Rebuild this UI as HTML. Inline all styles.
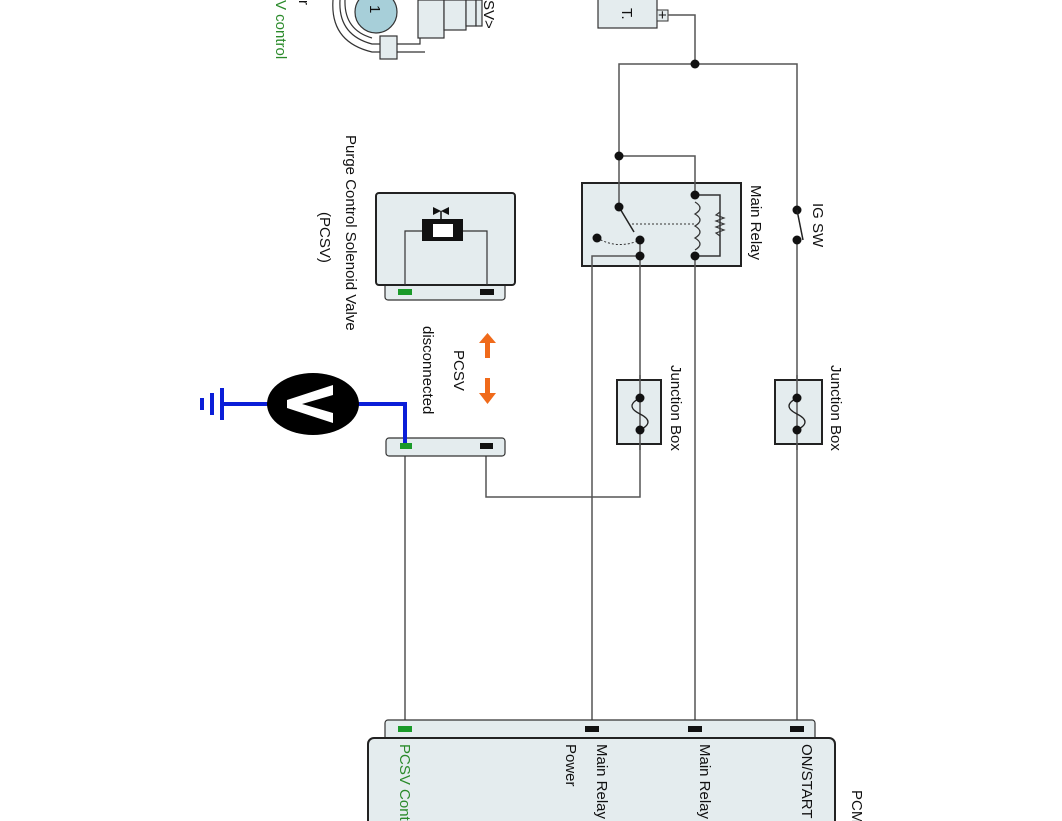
<!DOCTYPE html>
<html><head><meta charset="utf-8"><style>
html,body{margin:0;padding:0;background:#fff;}
svg{display:block;}
text{font-family:"Liberation Sans",sans-serif;font-size:15px;fill:#111;}
</style></head><body>
<svg width="1062" height="821" viewBox="0 0 1062 821" xmlns="http://www.w3.org/2000/svg">
<!-- top-left partial component -->
<g stroke="#333" stroke-width="1.2" fill="#e4ecee">
<path d="M340,0 Q338,35 372,44 L420,44 L420,0" fill="none"/>
<path d="M333,0 Q330,42 372,52 L425,52" fill="none"/>
<path d="M345,0 Q344,30 372,38" fill="none"/>
<rect x="380" y="36" width="17" height="23"/>
<rect x="418" y="0" width="26" height="38"/>
<rect x="444" y="0" width="22" height="30"/>
<rect x="466" y="0" width="10" height="26"/>
<rect x="476" y="0" width="6" height="26"/>
<circle cx="376" cy="12" r="21" fill="#a7cfd9"/>
</g>
<text transform="translate(370,5) rotate(90)" font-size="14">1</text>
<text transform="translate(484,0) rotate(90)" font-size="16">SV&gt;</text>
<text transform="translate(299,0) rotate(90)" font-size="16">r</text>
<text transform="translate(276,0) rotate(90)" font-size="16" style="fill:#2a8a2a">V control</text>

<!-- battery -->
<rect x="598" y="-5" width="59" height="33" fill="#e4ecee" stroke="#333" stroke-width="1.2"/>
<text transform="translate(622,8) rotate(90)" font-size="13">T.</text>
<rect x="657" y="10" width="11" height="11" fill="#e4ecee" stroke="#333"/>
<text x="658" y="20" font-size="11">+</text>

<!-- relay box (behind wires) -->
<rect x="582" y="183" width="159" height="83" fill="#e4ecee" stroke="#222" stroke-width="2"/>

<!-- wires -->
<g stroke="#555" stroke-width="1.5" fill="none">
<polyline points="668,15 695,15 695,64"/>
<polyline points="619,207 619,64 797,64 797,210"/>
<polyline points="619,156 695,156 695,195"/>
<line x1="797" y1="240" x2="797" y2="728"/>
<line x1="695" y1="256" x2="695" y2="728"/>
<polyline points="640,256 592,256 592,728"/>
<polyline points="640,240 640,497 486,497 486,446"/>
<line x1="405" y1="446" x2="405" y2="728"/>
<polyline points="695,195 720,195 720,256 695,256" stroke="#333"/>
</g>
<g fill="#111">
<circle cx="695" cy="64" r="4.5"/>
<circle cx="619" cy="156" r="4.5"/>
<circle cx="797" cy="210" r="4.5"/>
<circle cx="797" cy="240" r="4.5"/>
</g>
<line x1="797" y1="210" x2="803" y2="240" stroke="#222" stroke-width="1.5"/>
<text transform="translate(813,203) rotate(90)">IG SW</text>

<!-- relay internals -->
<line x1="619" y1="207" x2="634" y2="232" stroke="#222" stroke-width="1.5"/>
<line x1="632" y1="224" x2="695" y2="224" stroke="#333" stroke-width="1" stroke-dasharray="2,2"/>
<path d="M597,238 Q618,250 640,240" stroke="#333" stroke-width="1" stroke-dasharray="2,2" fill="none"/>
<path d="M695,202 q10,6 0,12 q10,6 0,12 q10,6 0,12 q10,6 0,12" stroke="#333" stroke-width="1.3" fill="none"/>
<polyline points="720,212 716,215 724,218 716,221 724,224 716,227 724,230 716,233 720,236" stroke="#333" stroke-width="1.2" fill="none"/>
<g fill="#111">
<circle cx="619" cy="207" r="4.5"/><circle cx="640" cy="240" r="4.5"/><circle cx="640" cy="256" r="4.5"/>
<circle cx="597" cy="238" r="4.5"/><circle cx="695" cy="195" r="4.5"/><circle cx="695" cy="256" r="4.5"/>
</g>
<text transform="translate(751,185) rotate(90)">Main Relay</text>

<!-- junction boxes -->
<rect x="617" y="380" width="44" height="64" fill="#e4ecee" stroke="#222" stroke-width="2"/>
<rect x="775" y="380" width="47" height="64" fill="#e4ecee" stroke="#222" stroke-width="2"/>
<line x1="640" y1="375" x2="640" y2="450" stroke="#555" stroke-width="1.5"/>
<line x1="797" y1="375" x2="797" y2="450" stroke="#555" stroke-width="1.5"/>
<path d="M640,398 q-16,8 0,16 q16,8 0,16" stroke="#222" stroke-width="1.3" fill="none"/>
<path d="M797,398 q-16,8 0,16 q16,8 0,16" stroke="#222" stroke-width="1.3" fill="none"/>
<g fill="#111"><circle cx="640" cy="398" r="4.5"/><circle cx="640" cy="430" r="4.5"/><circle cx="797" cy="398" r="4.5"/><circle cx="797" cy="430" r="4.5"/></g>
<text transform="translate(671,365) rotate(90)">Junction Box</text>
<text transform="translate(831,365) rotate(90)">Junction Box</text>

<!-- PCSV -->
<rect x="385" y="280" width="120" height="20" rx="3" fill="#e4ecee" stroke="#333" stroke-width="1.2"/>
<rect x="376" y="193" width="139" height="92" rx="3" fill="#e4ecee" stroke="#222" stroke-width="2"/>
<polyline points="405,285 405,231 422,231" stroke="#333" stroke-width="1.2" fill="none"/>
<polyline points="463,231 487,231 487,285" stroke="#333" stroke-width="1.2" fill="none"/>
<rect x="422" y="219" width="41" height="22" fill="#111"/>
<rect x="433" y="224" width="20" height="13" fill="#fff"/>
<line x1="441" y1="219" x2="441" y2="211" stroke="#111" stroke-width="1.5"/>
<path d="M433,207 L441,211 L433,215 Z M449,207 L441,211 L449,215 Z" fill="#111"/>
<rect x="398" y="289" width="14" height="6" fill="#1a9a2a"/>
<rect x="480" y="289" width="14" height="6" fill="#111"/>
<text transform="translate(346,135) rotate(90)">Purge Control Solenoid Valve</text>
<text transform="translate(320,212) rotate(90)">(PCSV)</text>

<!-- arrows -->
<g fill="#f06a1a">
<rect x="485" y="341" width="5" height="17"/><path d="M479,343 L487.5,333 L496,343 Z"/>
<rect x="485" y="378" width="5" height="17"/><path d="M479,393 L487.5,404 L496,393 Z"/>
</g>
<text transform="translate(454,350) rotate(90)">PCSV</text>
<text transform="translate(423,326) rotate(90)" font-size="14">disconnected</text>

<!-- connector + voltmeter -->
<rect x="386" y="438" width="119" height="18" rx="3" fill="#e4ecee" stroke="#333" stroke-width="1.2"/>
<rect x="480" y="443" width="13" height="6" fill="#111"/>
<polyline points="405,446 405,404 357,404" stroke="#0a1ed8" stroke-width="4" fill="none"/>
<rect x="400" y="443" width="12" height="6" fill="#1a9a2a"/>
<line x1="268" y1="404" x2="222" y2="404" stroke="#0a1ed8" stroke-width="4"/>
<line x1="222" y1="388" x2="222" y2="420" stroke="#0a1ed8" stroke-width="4"/>
<line x1="212" y1="393" x2="212" y2="415" stroke="#0a1ed8" stroke-width="4"/>
<line x1="202" y1="398" x2="202" y2="410" stroke="#0a1ed8" stroke-width="4"/>
<ellipse cx="313" cy="404" rx="46" ry="31" fill="#000"/>
<path d="M333,385 L287,400 L287,408 L333,423 L333,413 L302,404 L333,395 Z" fill="#fff"/>

<!-- PCM -->
<rect x="385" y="720" width="430" height="30" rx="3" fill="#e4ecee" stroke="#333" stroke-width="1.2"/>
<rect x="368" y="738" width="467" height="100" rx="6" fill="#e4ecee" stroke="#222" stroke-width="2"/>
<rect x="398" y="726" width="14" height="6" fill="#1a9a2a"/>
<rect x="585" y="726" width="14" height="6" fill="#111"/>
<rect x="688" y="726" width="14" height="6" fill="#111"/>
<rect x="790" y="726" width="14" height="6" fill="#111"/>
<text transform="translate(400,744) rotate(90)" style="fill:#2a8a2a">PCSV Control</text>
<text transform="translate(597,744) rotate(90)">Main Relay</text>
<text transform="translate(566,744) rotate(90)">Power</text>
<text transform="translate(700,744) rotate(90)">Main Relay</text>
<text transform="translate(802,744) rotate(90)">ON/START</text>
<text transform="translate(852,790) rotate(90)">PCM</text>
</svg>
</body></html>
